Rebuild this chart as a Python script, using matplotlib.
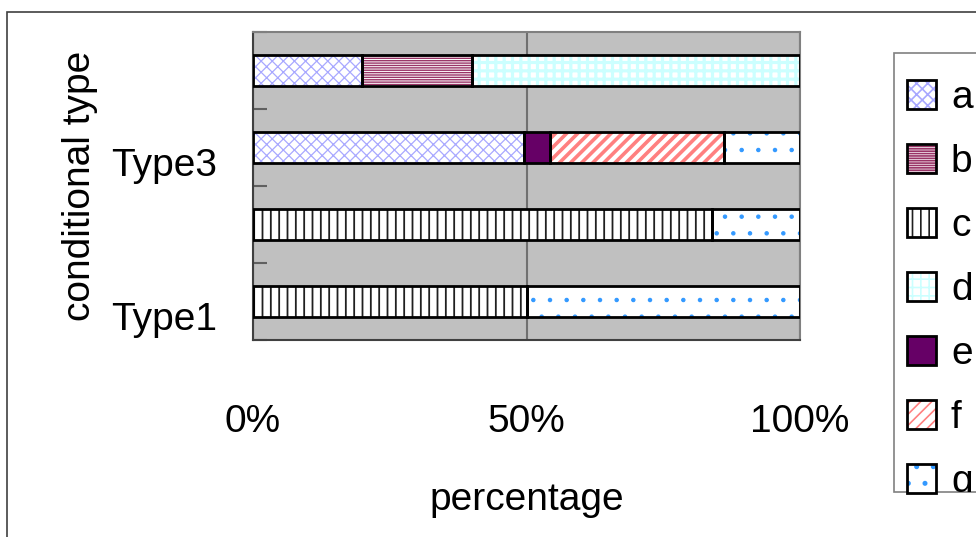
import numpy as np
import matplotlib
matplotlib.use("Agg")
import matplotlib.pyplot as plt
from matplotlib.patches import Rectangle
from matplotlib.transforms import ScaledTranslation, Bbox, TransformedBbox
from matplotlib.legend_handler import HandlerTuple

# categories from bottom to top, only every other one gets a label
categories = ["Type1", "Type2", "Type3", "Type4"]
shown_labels = ["Type1", "", "Type3", ""]

# percentage of each series per category
series_names = ["a", "b", "c", "d", "e", "f", "g"]
a = [0, 0, 49.5, 20]
b = [0, 0, 0, 20]
c = [50, 84, 0, 0]
d = [0, 0, 0, 60]
e = [0, 0, 4.8, 0]
f = [0, 0, 31.8, 0]
g = [50, 16, 13.9, 0]

x_ticks = [0, 50, 100]
x_tick_labels = ["0%", "50%", "100%"]

# fill style per series: (facecolor, hatch, hatch colour, hatch linewidth)
styles = {
    "a": ("white", "xxx", "#a8a8ff", 0.9),
    "b": ("white", "-------", "#993366", 1.0),
    "c": ("white", "||", "#202020", 1.3),
    "d": ("white", "++", "#ccffff", 2.3),
    "e": ("#660066", None, "#660066", 1.0),
    "f": ("white", "///", "#ff8080", 2.6),
    "g": ("white", ".", "#3399ff", 0.8),
}

plt.rcParams["font.family"] = ["Liberation Sans", "DejaVu Sans"]
fs = 28
plt.rcParams["hatch.linewidth"] = 1.2

fig = plt.figure(figsize=(9.76, 5.37), dpi=100)
ax = fig.add_axes([253 / 976, 197 / 537, 547 / 976, 308 / 537])
ax.set_facecolor("#c0c0c0")

pos = np.arange(len(categories))
values = [a, b, c, d, e, f, g]
left = np.zeros(len(categories))
handles = []
for name, vals in zip(series_names, values):
    vals = np.array(vals, dtype=float)
    m = vals > 0
    fc, hatch, hc, hlw = styles[name]
    fill = ax.barh(pos[m], vals[m], left=left[m], height=0.4, color=fc,
                   edgecolor=hc, linewidth=0, hatch=hatch, zorder=2)
    for p in fill:
        if hasattr(p, "set_hatch_linewidth"):
            p.set_hatch_linewidth(hlw)
    edge = ax.barh(pos[m], vals[m], left=left[m], height=0.4, color="none",
                   edgecolor="black", linewidth=2.0, zorder=3)
    handles.append((fill, edge))
    left += vals

ax.set_xlim(0, 100)
ax.set_ylim(-0.5, len(categories) - 0.5)
ax.set_xticks(x_ticks)
ax.set_xticklabels(x_tick_labels, fontsize=fs)
ax.set_yticks(pos)
ax.set_yticklabels(shown_labels, fontsize=fs)
ax.set_yticks(np.arange(len(categories) + 1) - 0.5, minor=True)
ax.tick_params(axis="x", length=0, pad=46)
ax.tick_params(axis="y", which="major", length=0, pad=26)
ax.tick_params(axis="y", which="minor", direction="in", length=10,
               width=1.5, color="#606060")
for lab in ax.get_yticklabels():
    lab.set_transform(lab.get_transform()
                      + ScaledTranslation(0, -0.14, fig.dpi_scale_trans))

ax.set_axisbelow(True)
ax.grid(axis="x", color="#707070", linewidth=1.5)
for s in ["left", "bottom"]:
    ax.spines[s].set_color("#404040")
    ax.spines[s].set_linewidth(1.5)
for s in ["top", "right"]:
    ax.spines[s].set_color("#808080")
    ax.spines[s].set_linewidth(1.5)

ax.set_xlabel("percentage", fontsize=fs)
ax.set_ylabel("conditional type", fontsize=fs)
ax.xaxis.set_label_coords(0.5, -0.462)
ax.yaxis.set_label_coords(-0.284, 0.5)

# legend box, runs off the right edge like in the original
box = Rectangle((894 / 976, 45 / 537), 0.2, 439 / 537, facecolor="white",
                edgecolor="#808080", linewidth=1.2, zorder=1,
                transform=fig.transFigure)
fig.add_artist(box)
leg = fig.legend(handles, series_names, loc="upper left",
                 bbox_to_anchor=(907 / 976, 1 - 80 / 537), borderaxespad=0,
                 fontsize=fs, handlelength=0.74, handleheight=0.74,
                 handletextpad=0.39, labelspacing=0.72, borderpad=0,
                 frameon=False,
                 handler_map={tuple: HandlerTuple(ndivide=1, pad=0)})
clip = TransformedBbox(Bbox([[894 / 976, 45 / 537], [1.0, 484 / 537]]),
                       fig.transFigure)
for t in leg.get_texts():
    t.set_clip_box(clip)
    t.set_clip_on(True)

# outer chart frame
fig.add_artist(Rectangle((7 / 976, -0.1), 1.2, 1.1 - 12 / 537, fill=False,
                         edgecolor="#404040", linewidth=1.2,
                         transform=fig.transFigure))

fig.savefig("out.png", dpi=100)
